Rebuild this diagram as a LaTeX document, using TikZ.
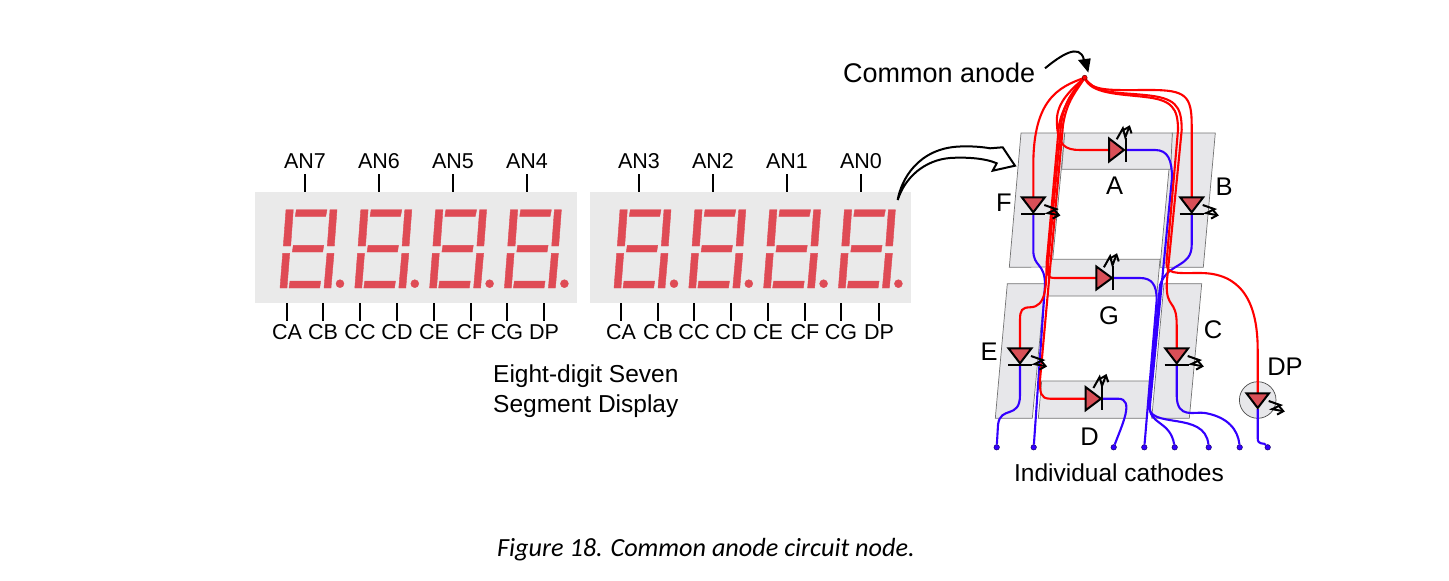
\documentclass[tikz,border=0pt]{standalone}
\usepackage{fontspec}
\setmainfont{Liberation Sans}
\newfontfamily\capfont{Carlito}
\usetikzlibrary{arrows.meta}
\definecolor{panelgray}{HTML}{EAEAEA}
\definecolor{seggray}{HTML}{E7E7EA}
\definecolor{segred}{HTML}{DF4B55}
\definecolor{ledred}{HTML}{D94F57}
\definecolor{wirered}{HTML}{FF0000}
\definecolor{wireblue}{HTML}{3300FF}
\tikzset{
  seg/.style={fill=segred,draw=segred,line width=.4pt},
  pinlbl/.style={font=\fontsize{21.5}{24}\selectfont,inner sep=0pt},
  pintick/.style={draw=black,line width=1.5pt},
  bigtxt/.style={font=\fontsize{25.5}{30}\selectfont,inner sep=0pt},
  panel/.style={fill=seggray,draw=black!55,line width=.7pt},
  rw/.style={draw=wirered,line width=2.1pt},
  bw/.style={draw=wireblue,line width=2.1pt},
  led/.style={fill=ledred,draw=black,line width=2pt,line join=miter},
  ledbar/.style={draw=black,line width=2pt},
  term/.style={circle,fill=wireblue,draw=black!60!wireblue,line width=.5pt,minimum size=5.5pt,inner sep=0pt},
  zap/.pic={\draw[line width=2pt,line join=miter,-{Straight Barb[length=5.5pt,width=9pt,line width=2pt]}] (0,0)--(12.5,-1)--(6.5,6)--(19,3);},
}
\newcommand\sevenseg[1]{%
\begin{scope}[xshift=#1pt]
\filldraw[seg] (286,209.7)--(293.3,209.7)--(290.7,246)--(283.3,246)--cycle;
\filldraw[seg] (296.3,209.7)--(327,209.7)--(325.7,216.3)--(295.3,216.3)--cycle;
\filldraw[seg] (330,209.7)--(337,209.7)--(334.3,246)--(327.3,246)--cycle;
\filldraw[seg] (293.3,245.3)--(323.7,245.3)--(322.7,252)--(292.3,252)--cycle;
\filldraw[seg] (282.7,253.3)--(289.7,253.3)--(287,288)--(280,288)--cycle;
\filldraw[seg] (290,281)--(320.7,281)--(319.7,288)--(289,288)--cycle;
\filldraw[seg] (327,253.3)--(334,253.3)--(331,288)--(324,288)--cycle;
\filldraw[seg] (340,283.7) circle (4);
\end{scope}}
\begin{document}
\begin{tikzpicture}[x=1pt,y=-1pt]
\path[use as bounding box,fill=white] (0,0) rectangle (1449,581);
% display panels
\fill[panelgray] (255,192) rectangle (577,303);
\fill[panelgray] (590,192) rectangle (911,303);
\foreach \o in {0,74.8,149.6,224.4,334,408.8,483.6,558.4}{\sevenseg{\o}}
% top labels and ticks
\foreach \t/\x in {AN7/305,AN6/379,AN5/453,AN4/527,AN3/639,AN2/713,AN1/787,AN0/861}{
  \node[pinlbl] (top\t) at (\x,161) {\t};
  \coordinate (ta\t) at (\x,174);
  \coordinate (tb\t) at (\x,192);
  \draw[pintick] (ta\t)--(tb\t);
}
% bottom labels and ticks
\foreach \t/\x/\n in {CA/287/a,CB/323/b,CC/360/c,CD/397/d,CE/434/e,CF/471/f,CG/507/g,DP/544/h,CA/621/i,CB/658/j,CC/694/k,CD/731/l,CE/768/m,CF/805/n,CG/841/o,DP/879/p}{
  \node[pinlbl] (bot\n) at (\x,332) {\t};
  \coordinate (ba\n) at (\x,303);
  \coordinate (bb\n) at (\x,321);
  \draw[pintick] (ba\n)--(bb\n);
}
\node[font=\fontsize{24.5}{29.5}\selectfont,align=left,inner sep=0pt,anchor=north west] (title) at (493,365) {Eight-digit Seven\\Segment Display};
\node[font=\capfont\itshape\fontsize{26.2}{30}\selectfont,inner sep=0pt] (caption) at (706,550) {Figure 18. Common anode circuit node.};
% big curved arrow
\draw[fill=white,draw=black,line width=2pt,line join=miter]
  (897.7,200) .. controls (901,180) and (918,148) .. (960,146.5)
  .. controls (972,146) and (983,147) .. (990,148.3)
  -- (1002.7,147.3) -- (1015,165.7) -- (992.7,170.7) -- (996.7,163.3)
  .. controls (985,158) and (965,157) .. (950,158)
  .. controls (925,160) and (905,177) .. (897.7,200) -- cycle;
% segment panels
\draw[panel] (1021,133)--(1064.7,133)--(1052,267)--(1009.3,267.3)--cycle;
\draw[panel] (1172.3,133)--(1215.3,133)--(1203.3,267.3)--(1160,267.3)--cycle;
\draw[panel] (1007.3,283.7)--(1045,283.7)--(1032.3,418.3)--(995.3,418.3)--cycle;
\draw[panel] (1164,283.7)--(1201.7,283.7)--(1189.3,418.3)--(1151.7,418.3)--cycle;
\draw[panel] (1064.7,133)--(1172.3,133)--(1170.7,169.3)--(1061.7,169.3)--cycle;
\draw[panel] (1051,259.3)--(1160,259.3)--(1156.7,296)--(1048,296)--cycle;
\draw[panel] (1041.7,381)--(1149.3,381)--(1146.7,418.3)--(1038.3,418.3)--cycle;
\draw[fill=seggray,draw=black!70,line width=.7pt] (1257.7,400) circle (18.3);
% terminals
\coordinate (anode) at (1084.7,77.7);
\coordinate (Aa) at (1109,150);   \coordinate (Ak) at (1125.7,150);
\coordinate (Ga) at (1096.3,278); \coordinate (Gk) at (1113.3,278);
\coordinate (Da) at (1085.7,398.7); \coordinate (Dk) at (1102.3,398.7);
\coordinate (Fa) at (1033.3,197.3); \coordinate (Fk) at (1033.3,213.7);
\coordinate (Ba) at (1191.7,197.3); \coordinate (Bk) at (1191.7,213.7);
\coordinate (Ea) at (1020,348.3); \coordinate (Ek) at (1020,364.7);
\coordinate (Ca) at (1176.7,348.3); \coordinate (Ck) at (1176.7,364.7);
\coordinate (Pa) at (1257.7,393.3); \coordinate (Pk) at (1257.7,409);
% blue wires
\node[term] (c1) at (996.7,447.3) {};
\node[term] (c2) at (1033.7,447.3) {};
\node[term] (c3) at (1113.7,447.3) {};
\node[term] (c4) at (1144.3,447.3) {};
\node[term] (c5) at (1174.7,447.3) {};
\node[term] (c6) at (1208.7,447.3) {};
\node[term] (c7) at (1239.7,447.3) {};
\node[term] (c8) at (1267.7,447.3) {};
\draw[bw] (Ek) -- (1020,395) .. controls (1020,420) and (1000,405) .. (998,425) -- (c1);
\draw[bw] (Fk) -- (1033.3,250) .. controls (1033.3,268) and (1045,262) .. (1045,285) -- (c2);
\draw[bw] (Dk) -- (1118,398.7) .. controls (1135,398.7) and (1122,425) .. (c3);
\draw[bw] (Gk) -- (1140,278) .. controls (1152,278) and (1156.7,285) .. (1156.7,300) -- (c4);
\draw[bw] (Ak) -- (1155,150) .. controls (1168,150) and (1172,160) .. (1172,178)
  -- (1150,405) .. controls (1148,425) and (1170,420) .. (c5);
\draw[bw] (Bk) -- (1191.7,245) .. controls (1191.7,268) and (1168,262) .. (1160,285)
  -- (1149,405) .. controls (1147,430) and (1205,410) .. (c6);
\draw[bw] (Ck) -- (1176.7,395) .. controls (1176.7,420) and (1195,411) .. (1205,413) .. controls (1228,417) and (1238,430) .. (c7);
\draw[bw] (Pk) -- (1257.7,438) .. controls (1257.7,446) and (1264,442) .. (c8);
% red wires
\draw[rw] (anode) .. controls (1058,87) and (1033.3,100) .. (1033.3,165) -- (Fa);
\draw[rw] (anode) .. controls (1068,92) and (1055,105) .. (1057,125)
  .. controls (1058,145) and (1065,150) .. (1080,150) -- (Aa);
\draw[rw] (anode) .. controls (1072,92) and (1064,102) .. (1061,125)
  -- (1048,264) .. controls (1047,276) and (1048,278) .. (1055,278) -- (Ga);
\draw[rw] (anode) .. controls (1074,92) and (1063,105) .. (1059,125)
  -- (1046.7,262) .. controls (1046,285) and (1047,307) .. (1030,307.3)
  .. controls (1022,307.5) and (1020,310) .. (1020,320) -- (Ea);
\draw[rw] (anode) .. controls (1076,92) and (1067,100) .. (1063,125)
  -- (1040,380) .. controls (1040,392) and (1040,398.7) .. (1050,398.7) -- (Da);
\draw[rw] (anode) .. controls (1092,92) and (1110,90) .. (1150,90)
  .. controls (1185,90) and (1191.7,95) .. (1191.7,125) -- (Ba);
\draw[rw] (anode) .. controls (1095,94) and (1115,92) .. (1145,95)
  .. controls (1175,98) and (1181.7,105) .. (1181.7,130)
  -- (1166.7,283) .. controls (1166,310) and (1176.7,298) .. (1176.7,325) -- (Ca);
\draw[rw] (anode) .. controls (1090,94) and (1120,94) .. (1145,97)
  .. controls (1172,100) and (1178,108) .. (1178,130)
  -- (1166.7,260) .. controls (1165,275) and (1175,273) .. (1200,273)
  .. controls (1240,273) and (1257.7,300) .. (1257.7,350) -- (Pa);
\draw[fill=wirered,draw=black!60!wirered,line width=.5pt] (anode) circle (2.5);
% diodes
\draw[led] (Aa |- 0,138.5) -- (1124,150) -- (Aa |- 0,161.5) -- cycle;
\draw[ledbar] (1125.7,138.3) -- (1125.7,161.7);
\draw[led] (Ga |- 0,266.5) -- (1112,278) -- (Ga |- 0,289.5) -- cycle;
\draw[ledbar] (1113.3,266.3) -- (1113.3,289.7);
\draw[led] (Da |- 0,387.2) -- (1101,398.7) -- (Da |- 0,410.2) -- cycle;
\draw[ledbar] (1102.3,387) -- (1102.3,410.4);
\foreach \c/\y in {1033.3/197.3,1191.7/197.3,1020/348.3,1176.7/348.3}{
  \draw[led] (\c-11.5,\y) -- (\c+11.5,\y) -- (\c,\y+15) -- cycle;
  \draw[ledbar] (\c-12,\y+16.4) -- (\c+12,\y+16.4);
}
\draw[led] (1246.5,393.3) -- (1269,393.3) -- (1257.7,408) -- cycle;
% light zaps
\pic[rotate=56] at (1116.7,139.3) {zap};
\pic[rotate=56] at (1103.9,267.3) {zap};
\pic[rotate=56] at (1093.4,388) {zap};
\pic[rotate=-24] at (1044.3,205) {zap};
\pic[rotate=-24] at (1202.7,205) {zap};
\pic[rotate=-24] at (1031,356) {zap};
\pic[rotate=-24] at (1187.7,356) {zap};
\pic[rotate=-24] at (1268.7,401) {zap};
% text on the right
\node[font=\fontsize{27}{32}\selectfont,inner sep=0pt,anchor=west] (comm) at (843,73) {Common anode};
\draw[line width=2pt] (1045,68.3) .. controls (1060,56) and (1080,42) .. (1084,60);
\fill (1088.3,72.5) -- (1078,60) -- (1090.7,58.3) -- cycle;
\node[bigtxt] (lA) at (1114.5,186) {A};
\node[bigtxt] (lB) at (1224,187) {B};
\node[bigtxt] (lF) at (1004,203) {F};
\node[bigtxt] (lG) at (1109,315.5) {G};
\node[bigtxt] (lC) at (1213,330) {C};
\node[bigtxt] (lE) at (989,352) {E};
\node[bigtxt] (lD) at (1089.5,437) {D};
\node[bigtxt] (lP) at (1285,367) {DP};
\node[font=\fontsize{24.5}{29}\selectfont,inner sep=0pt] (cath) at (1119,473) {Individual cathodes};
\end{tikzpicture}
\end{document}
